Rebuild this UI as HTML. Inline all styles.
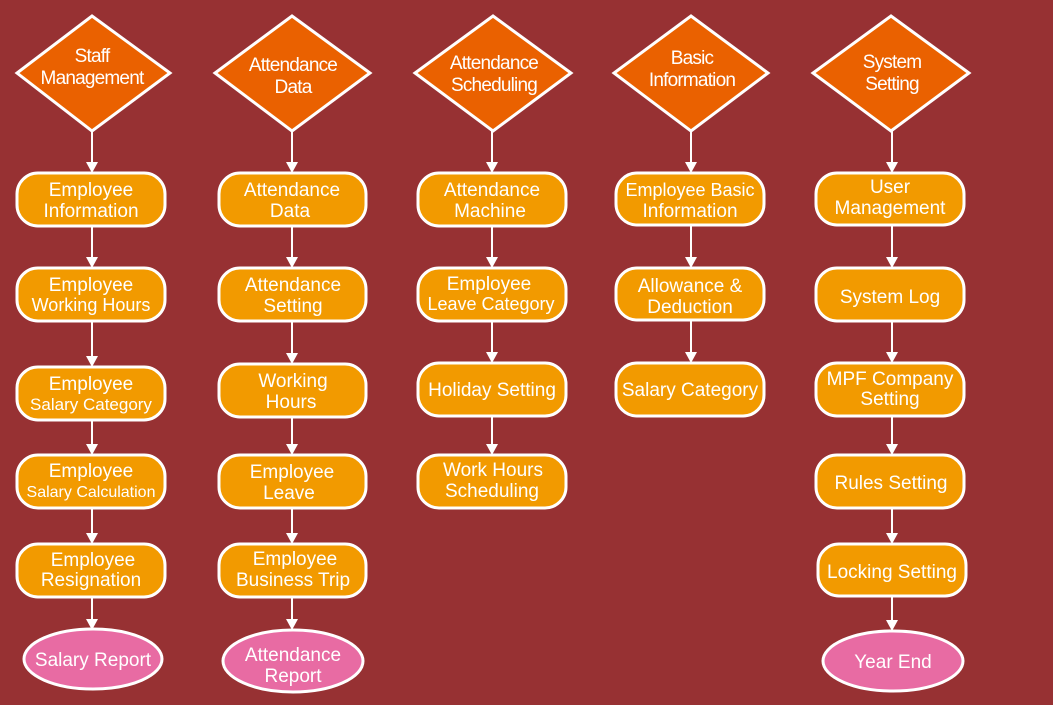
<!DOCTYPE html>
<html><head><meta charset="utf-8"><style>
html,body{margin:0;padding:0;background:#973133;}
svg{display:block}
text{font-family:"Liberation Sans",sans-serif;fill:#fff;text-anchor:middle;font-size:19px}
.d{fill:#EA6100;stroke:#fff;stroke-width:3}
.b{fill:#F29A00;stroke:#fff;stroke-width:3}
.e{fill:#E86BA3;stroke:#fff;stroke-width:3}
.l{stroke:#fff;stroke-width:2}
.a{fill:#fff}
.dt{font-size:19px;letter-spacing:-0.8px}
</style></head><body>
<svg width="1053" height="705" viewBox="0 0 1053 705" xmlns="http://www.w3.org/2000/svg">
<rect width="1053" height="705" fill="#973133"/>
<!-- Column 1 -->
<polygon class="d" points="92,16 170,73 92,131 17,73"/>
<text class="dt" x="92" y="62">Staff</text><text class="dt" x="92" y="84">Management</text>
<line class="l" x1="92" y1="131" x2="92" y2="163"/><polygon class="a" points="86,162 98,162 92,173"/>
<rect class="b" x="17" y="173" width="148" height="53" rx="21"/>
<text x="91" y="196">Employee</text><text x="91" y="217">Information</text>
<line class="l" x1="92" y1="226" x2="92" y2="258"/><polygon class="a" points="86,257 98,257 92,268"/>
<rect class="b" x="17" y="268" width="148" height="53" rx="21"/>
<text x="91" y="291">Employee</text><text x="91" y="311" style="font-size:18px">Working Hours</text>
<line class="l" x1="92" y1="321" x2="92" y2="357"/><polygon class="a" points="86,356 98,356 92,367"/>
<rect class="b" x="17" y="367" width="148" height="53" rx="21"/>
<text x="91" y="390">Employee</text><text x="91" y="410" style="font-size:17px">Salary Category</text>
<line class="l" x1="92" y1="420" x2="92" y2="445"/><polygon class="a" points="86,444 98,444 92,455"/>
<rect class="b" x="17" y="455" width="148" height="53" rx="21"/>
<text x="91" y="477">Employee</text><text x="91" y="497" style="font-size:16px">Salary Calculation</text>
<line class="l" x1="92" y1="508" x2="92" y2="534"/><polygon class="a" points="86,533 98,533 92,544"/>
<rect class="b" x="17" y="544" width="148" height="53" rx="21"/>
<text x="93" y="566">Employee</text><text x="91" y="586">Resignation</text>
<line class="l" x1="92" y1="597" x2="92" y2="620"/><polygon class="a" points="86,619 98,619 92,630"/>
<ellipse class="e" cx="93" cy="659" rx="69" ry="30"/>
<text x="93" y="666">Salary Report</text>
<!-- Column 2 -->
<polygon class="d" points="292,16 370,73 292,131 215,73"/>
<text class="dt" x="293" y="71">Attendance</text><text class="dt" x="293" y="93">Data</text>
<line class="l" x1="292" y1="131" x2="292" y2="163"/><polygon class="a" points="286,162 298,162 292,173"/>
<rect class="b" x="219" y="173" width="147" height="53" rx="21"/>
<text x="292" y="196">Attendance</text><text x="290" y="217">Data</text>
<line class="l" x1="292" y1="226" x2="292" y2="258"/><polygon class="a" points="286,257 298,257 292,268"/>
<rect class="b" x="219" y="268" width="147" height="53" rx="21"/>
<text x="293" y="291">Attendance</text><text x="293" y="312">Setting</text>
<line class="l" x1="292" y1="321" x2="292" y2="354"/><polygon class="a" points="286,353 298,353 292,364"/>
<rect class="b" x="219" y="364" width="147" height="53" rx="21"/>
<text x="293" y="387">Working</text><text x="291" y="408">Hours</text>
<line class="l" x1="292" y1="417" x2="292" y2="445"/><polygon class="a" points="286,444 298,444 292,455"/>
<rect class="b" x="219" y="455" width="147" height="53" rx="21"/>
<text x="292" y="478">Employee</text><text x="289" y="499">Leave</text>
<line class="l" x1="292" y1="508" x2="292" y2="534"/><polygon class="a" points="286,533 298,533 292,544"/>
<rect class="b" x="219" y="544" width="147" height="53" rx="21"/>
<text x="295" y="565">Employee</text><text x="293" y="586">Business Trip</text>
<line class="l" x1="292" y1="597" x2="292" y2="620"/><polygon class="a" points="286,619 298,619 292,630"/>
<ellipse class="e" cx="293" cy="661" rx="70" ry="31"/>
<text x="293" y="661">Attendance</text><text x="293" y="682">Report</text>
<!-- Column 3 -->
<polygon class="d" points="493,16 571,73 493,131 415,73"/>
<text class="dt" x="494" y="69">Attendance</text><text class="dt" x="494" y="91">Scheduling</text>
<line class="l" x1="492" y1="131" x2="492" y2="163"/><polygon class="a" points="486,162 498,162 492,173"/>
<rect class="b" x="418" y="173" width="148" height="53" rx="21"/>
<text x="492" y="196">Attendance</text><text x="490" y="217">Machine</text>
<line class="l" x1="492" y1="226" x2="492" y2="258"/><polygon class="a" points="486,257 498,257 492,268"/>
<rect class="b" x="418" y="268" width="148" height="53" rx="21"/>
<text x="489" y="290">Employee</text><text x="491" y="310" style="font-size:18px">Leave Category</text>
<line class="l" x1="492" y1="321" x2="492" y2="353"/><polygon class="a" points="486,352 498,352 492,363"/>
<rect class="b" x="418" y="363" width="148" height="53" rx="21"/>
<text x="492" y="396">Holiday Setting</text>
<line class="l" x1="492" y1="416" x2="492" y2="445"/><polygon class="a" points="486,444 498,444 492,455"/>
<rect class="b" x="418" y="455" width="148" height="53" rx="21"/>
<text x="493" y="476">Work Hours</text><text x="492" y="497">Scheduling</text>
<!-- Column 4 -->
<polygon class="d" points="691,16 768,73 691,131 614,73"/>
<text class="dt" x="692" y="64">Basic</text><text class="dt" x="692" y="86">Information</text>
<line class="l" x1="691" y1="131" x2="691" y2="163"/><polygon class="a" points="685,162 697,162 691,173"/>
<rect class="b" x="616" y="173" width="148" height="52" rx="21"/>
<text x="690" y="196" style="font-size:18px">Employee Basic</text><text x="690" y="217">Information</text>
<line class="l" x1="691" y1="225" x2="691" y2="258"/><polygon class="a" points="685,257 697,257 691,268"/>
<rect class="b" x="616" y="268" width="148" height="52" rx="21"/>
<text x="690" y="292">Allowance &amp;</text><text x="690" y="313">Deduction</text>
<line class="l" x1="691" y1="320" x2="691" y2="353"/><polygon class="a" points="685,352 697,352 691,363"/>
<rect class="b" x="616" y="363" width="148" height="53" rx="21"/>
<text x="690" y="396">Salary Category</text>
<!-- Column 5 -->
<polygon class="d" points="891,16 969,73 891,131 813,73"/>
<text class="dt" x="892" y="68">System</text><text class="dt" x="892" y="90">Setting</text>
<line class="l" x1="892" y1="131" x2="892" y2="163"/><polygon class="a" points="886,162 898,162 892,173"/>
<rect class="b" x="816" y="173" width="148" height="52" rx="21"/>
<text x="890" y="193">User</text><text x="890" y="214">Management</text>
<line class="l" x1="892" y1="225" x2="892" y2="258"/><polygon class="a" points="886,257 898,257 892,268"/>
<rect class="b" x="816" y="268" width="148" height="53" rx="21"/>
<text x="890" y="303">System Log</text>
<line class="l" x1="892" y1="321" x2="892" y2="353"/><polygon class="a" points="886,352 898,352 892,363"/>
<rect class="b" x="816" y="363" width="148" height="53" rx="21"/>
<text x="890" y="385">MPF Company</text><text x="890" y="405">Setting</text>
<line class="l" x1="892" y1="416" x2="892" y2="445"/><polygon class="a" points="886,444 898,444 892,455"/>
<rect class="b" x="816" y="455" width="148" height="53" rx="21"/>
<text x="891" y="489">Rules Setting</text>
<line class="l" x1="892" y1="508" x2="892" y2="534"/><polygon class="a" points="886,533 898,533 892,544"/>
<rect class="b" x="818" y="544" width="148" height="52" rx="21"/>
<text x="892" y="578">Locking Setting</text>
<line class="l" x1="892" y1="596" x2="892" y2="621"/><polygon class="a" points="886,620 898,620 892,631"/>
<ellipse class="e" cx="893" cy="661" rx="70" ry="30"/>
<text x="893" y="668">Year End</text>
</svg>
</body></html>
